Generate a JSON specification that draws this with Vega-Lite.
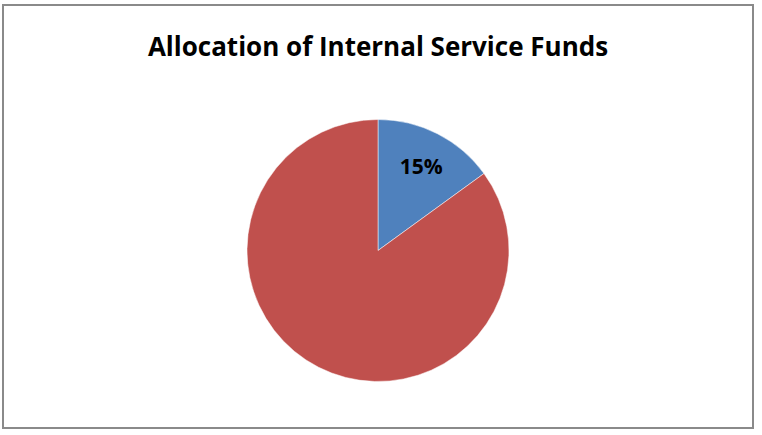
{
  "$schema": "https://vega.github.io/schema/vega-lite/v6.json",
  "width": 750,
  "height": 423,
  "autosize": {"type": "none"},
  "padding": {"left": 3, "top": 5, "right": 9, "bottom": 7},
  "background": "white",
  "view": {"stroke": "#8a8a8a", "strokeWidth": 2, "fill": "white"},
  "title": {
    "text": "Allocation of Internal Service Funds",
    "font": "Open Sans",
    "fontSize": 26,
    "fontWeight": "bold",
    "color": "black",
    "anchor": "middle",
    "offset": -56
  },
  "data": {"values": [
    {"category": "Internal Service Funds", "value": 15, "label": "15%", "o": 1},
    {"category": "Other", "value": 85, "label": "", "o": 2}
  ]},
  "encoding": {
    "theta": {"field": "value", "type": "quantitative", "stack": true},
    "order": {"field": "o", "type": "quantitative"}
  },
  "layer": [
    {
      "mark": {"type": "arc", "outerRadius": 131, "yOffset": 34, "stroke": "white", "strokeWidth": 0.5},
      "encoding": {
        "color": {"field": "category", "type": "nominal", "legend": null,
          "scale": {"domain": ["Internal Service Funds", "Other"], "range": ["#4F81BD", "#C0504D"]}}
      }
    },
    {
      "mark": {"type": "text", "radius": 95, "yOffset": 36, "font": "Open Sans", "fontSize": 21, "fontWeight": "bold", "color": "black"},
      "encoding": {"text": {"field": "label", "type": "nominal"}}
    }
  ]
}
